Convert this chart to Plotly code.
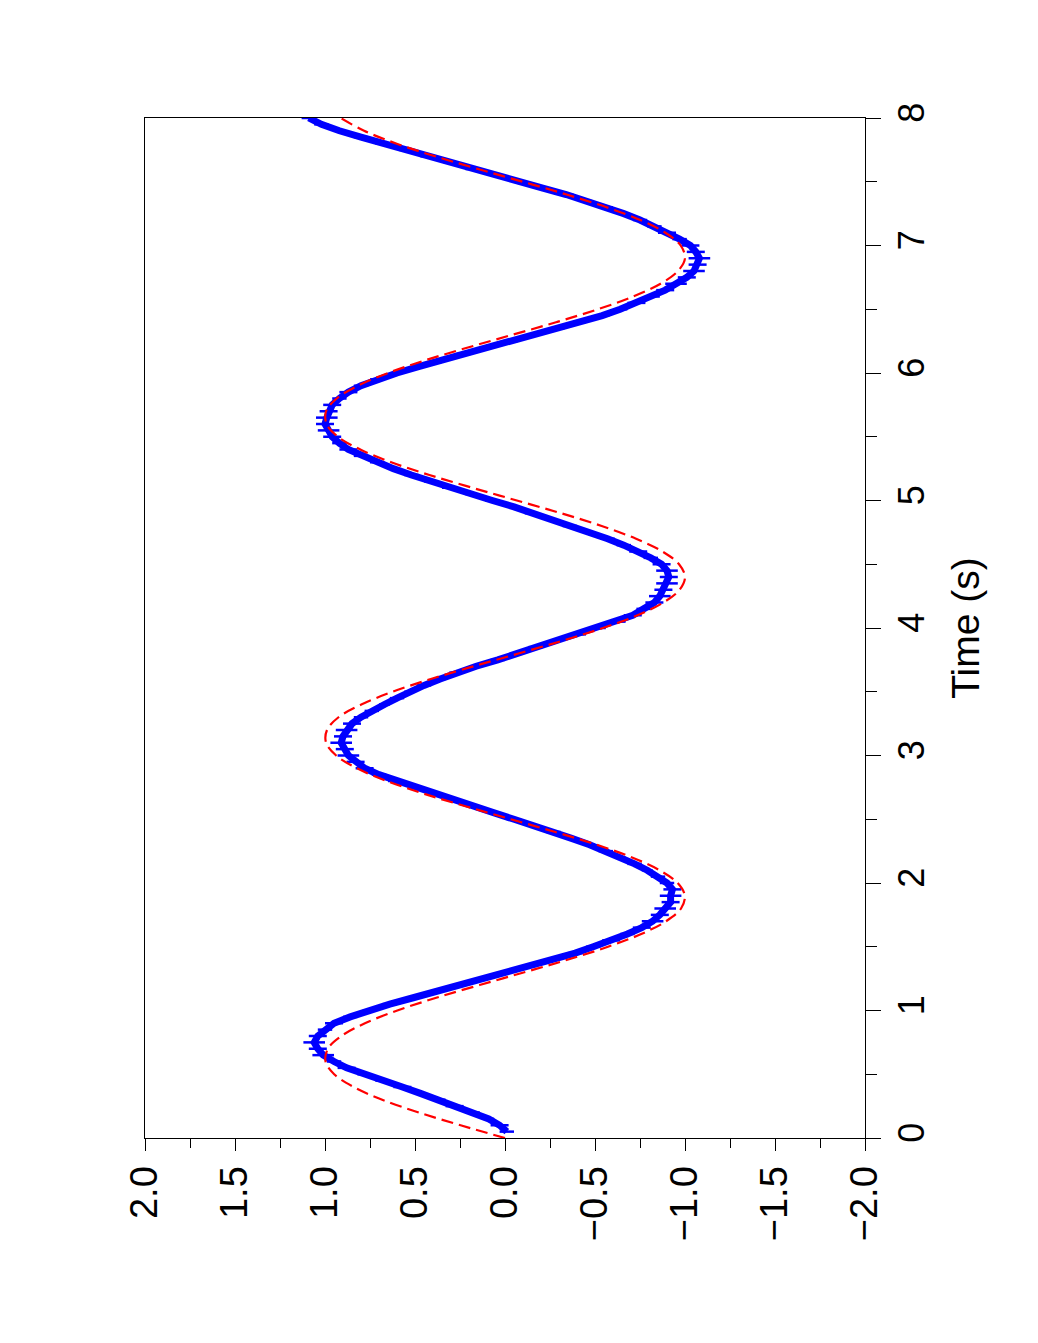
import plotly.graph_objects as go

# --- measured data (blue points with error bars) ---
t_meas = [0.05, 0.10, 0.15, 0.20, 0.25, 0.30, 0.35, 0.40, 0.45, 0.50,
          0.55, 0.60, 0.65, 0.70, 0.75, 0.80, 0.85, 0.90, 0.95, 1.00,
          1.05, 1.10, 1.15, 1.20, 1.25, 1.30, 1.35, 1.40, 1.45, 1.50,
          1.55, 1.60, 1.65, 1.70, 1.75, 1.80, 1.85, 1.90, 1.95, 2.00,
          2.05, 2.10, 2.15, 2.20, 2.25, 2.30, 2.35, 2.40, 2.45, 2.50,
          2.55, 2.60, 2.65, 2.70, 2.75, 2.80, 2.85, 2.90, 2.95, 3.00,
          3.05, 3.10, 3.15, 3.20, 3.25, 3.30, 3.35, 3.40, 3.45, 3.50,
          3.55, 3.60, 3.65, 3.70, 3.75, 3.80, 3.85, 3.90, 3.95, 4.00,
          4.05, 4.10, 4.15, 4.20, 4.25, 4.30, 4.35, 4.40, 4.45, 4.50,
          4.55, 4.60, 4.65, 4.70, 4.75, 4.80, 4.85, 4.90, 4.95, 5.00,
          5.05, 5.10, 5.15, 5.20, 5.25, 5.30, 5.35, 5.40, 5.45, 5.50,
          5.55, 5.60, 5.65, 5.70, 5.75, 5.80, 5.85, 5.90, 5.95, 6.00,
          6.05, 6.10, 6.15, 6.20, 6.25, 6.30, 6.35, 6.40, 6.45, 6.50,
          6.55, 6.60, 6.65, 6.70, 6.75, 6.80, 6.85, 6.90, 6.95, 7.00,
          7.05, 7.10, 7.15, 7.20, 7.25, 7.30, 7.35, 7.40, 7.45, 7.50,
          7.55, 7.60, 7.65, 7.70, 7.75, 7.80, 7.85, 7.90, 7.95, 8.00]
v_meas = [-0.01, 0.03, 0.09, 0.18, 0.28, 0.37, 0.47, 0.57, 0.68, 0.78,
          0.88, 0.95, 1.01, 1.04, 1.06, 1.04, 1.00, 0.95, 0.86, 0.76,
          0.64, 0.51, 0.38, 0.25, 0.12, -0.01, -0.14, -0.27, -0.39, -0.49,
          -0.59, -0.68, -0.76, -0.82, -0.86, -0.89, -0.92, -0.92, -0.93, -0.90,
          -0.85, -0.79, -0.72, -0.64, -0.56, -0.47, -0.37, -0.27, -0.16, -0.05,
          0.06, 0.17, 0.28, 0.40, 0.50, 0.61, 0.70, 0.78, 0.83, 0.87,
          0.89, 0.91, 0.90, 0.88, 0.85, 0.80, 0.74, 0.67, 0.60, 0.53,
          0.45, 0.36, 0.27, 0.16, 0.04, -0.07, -0.17, -0.29, -0.41, -0.52,
          -0.63, -0.71, -0.77, -0.83, -0.86, -0.88, -0.90, -0.91, -0.90, -0.87,
          -0.81, -0.74, -0.66, -0.57, -0.47, -0.36, -0.26, -0.15, -0.05, 0.07,
          0.19, 0.31, 0.42, 0.52, 0.62, 0.71, 0.80, 0.87, 0.92, 0.96,
          0.98, 1.00, 0.99, 0.98, 0.96, 0.92, 0.87, 0.80, 0.71, 0.60,
          0.48, 0.35, 0.23, 0.10, -0.03, -0.16, -0.29, -0.42, -0.54, -0.64,
          -0.73, -0.82, -0.89, -0.95, -1.01, -1.05, -1.07, -1.08, -1.06, -1.03,
          -0.97, -0.90, -0.83, -0.75, -0.66, -0.56, -0.45, -0.34, -0.21, -0.08,
          0.05, 0.18, 0.31, 0.43, 0.56, 0.68, 0.80, 0.92, 1.02, 1.09]
v_err = [0.04, 0.05, 0.03, 0.04, 0.05, 0.04, 0.03, 0.05, 0.04, 0.04,
         0.05, 0.04, 0.06, 0.05, 0.06, 0.05, 0.04, 0.05, 0.04, 0.03,
         0.04, 0.03, 0.04, 0.03, 0.04, 0.03, 0.04, 0.03, 0.04, 0.04,
         0.05, 0.04, 0.05, 0.06, 0.05, 0.06, 0.05, 0.06, 0.05, 0.04,
         0.04, 0.03, 0.04, 0.03, 0.04, 0.03, 0.03, 0.04, 0.03, 0.04,
         0.03, 0.04, 0.03, 0.04, 0.03, 0.04, 0.04, 0.05, 0.05, 0.06,
         0.05, 0.06, 0.05, 0.06, 0.05, 0.04, 0.04, 0.03, 0.04, 0.03,
         0.04, 0.03, 0.04, 0.03, 0.04, 0.03, 0.04, 0.03, 0.04, 0.04,
         0.04, 0.05, 0.04, 0.05, 0.06, 0.05, 0.06, 0.05, 0.06, 0.05,
         0.04, 0.05, 0.04, 0.04, 0.03, 0.04, 0.03, 0.04, 0.03, 0.04,
         0.03, 0.04, 0.03, 0.04, 0.03, 0.04, 0.04, 0.05, 0.04, 0.05,
         0.06, 0.05, 0.06, 0.05, 0.05, 0.04, 0.05, 0.04, 0.04, 0.03,
         0.04, 0.03, 0.04, 0.03, 0.04, 0.03, 0.04, 0.03, 0.04, 0.04,
         0.05, 0.04, 0.05, 0.06, 0.05, 0.06, 0.05, 0.06, 0.05, 0.05,
         0.04, 0.05, 0.04, 0.04, 0.03, 0.04, 0.03, 0.04, 0.03, 0.04,
         0.03, 0.04, 0.03, 0.04, 0.03, 0.04, 0.04, 0.03, 0.04, 0.04]

# --- fitted curve (red dashed) ---
t_fit = [0.0, 0.1, 0.2, 0.3, 0.4, 0.5, 0.6, 0.7, 0.8, 0.9,
         1.0, 1.1, 1.2, 1.3, 1.4, 1.5, 1.6, 1.7, 1.8, 1.9,
         2.0, 2.1, 2.2, 2.3, 2.4, 2.5, 2.6, 2.7, 2.8, 2.9,
         3.0, 3.1, 3.2, 3.3, 3.4, 3.5, 3.6, 3.7, 3.8, 3.9,
         4.0, 4.1, 4.2, 4.3, 4.4, 4.5, 4.6, 4.7, 4.8, 4.9,
         5.0, 5.1, 5.2, 5.3, 5.4, 5.5, 5.6, 5.7, 5.8, 5.9,
         6.0, 6.1, 6.2, 6.3, 6.4, 6.5, 6.6, 6.7, 6.8, 6.9,
         7.0, 7.1, 7.2, 7.3, 7.4, 7.5, 7.6, 7.7, 7.8, 7.9, 8.0]
v_fit = [0.000, 0.247, 0.479, 0.682, 0.841, 0.949, 0.997, 0.984, 0.909, 0.778,
         0.598, 0.382, 0.141, -0.108, -0.351, -0.572, -0.757, -0.895, -0.978, -0.999,
         -0.959, -0.859, -0.706, -0.510, -0.279, -0.033, 0.215, 0.450, 0.657, 0.823,
         0.938, 0.994, 0.989, 0.925, 0.798, 0.625, 0.412, 0.174, -0.075, -0.320,
         -0.544, -0.736, -0.880, -0.970, -1.000, -0.967, -0.875, -0.728, -0.537, -0.312,
         -0.066, 0.182, 0.420, 0.632, 0.804, 0.928, 0.991, 0.994, 0.935, 0.818,
         0.650, 0.442, 0.206, -0.042, -0.288, -0.516, -0.712, -0.864, -0.961, -1.000,
         -0.976, -0.891, -0.751, -0.564, -0.342, -0.099, 0.150, 0.389, 0.605, 0.783, 0.913]

x_ticks = [2.0, 1.5, 1.0, 0.5, 0.0, -0.5, -1.0, -1.5, -2.0]
x_ticklabels = ["2.0", "1.5", "1.0", "0.5", "0.0", "\u22120.5", "\u22121.0", "\u22121.5", "\u22122.0"]
t_ticks = [0, 1, 2, 3, 4, 5, 6, 7, 8]
t_ticklabels = ["0", "1", "2", "3", "4", "5", "6", "7", "8"]

FONT = "Liberation Sans, Arial, Helvetica, sans-serif"

fig = go.Figure()
fig.add_trace(go.Scatter(
    x=v_meas, y=t_meas, mode="lines",
    line=dict(color="#0000ff", width=7),
    error_x=dict(type="data", array=v_err, color="#0000ff", thickness=2.5, width=0),
    showlegend=False, hoverinfo="skip"))
fig.add_trace(go.Scatter(
    x=v_fit, y=t_fit, mode="lines", line_shape="spline",
    line=dict(color="#ff0000", width=2.2, dash="12px,6px"),
    showlegend=False, hoverinfo="skip"))

# page body has an 8px default margin, so the figure is sized 16px smaller
fig.update_layout(
    width=1022, height=1327,
    margin=dict(l=137, r=165, t=110, b=197),
    paper_bgcolor="white", plot_bgcolor="white",
    font=dict(family=FONT, color="black"),
    xaxis=dict(
        range=[2.0, -2.0], autorange=False,
        tickvals=x_ticks, ticktext=x_ticklabels, tickangle=-90,
        tickfont=dict(size=38, family=FONT),
        ticks="outside", ticklen=12, tickwidth=1, tickcolor="black",
        minor=dict(ticks="outside", ticklen=9, tickwidth=1, tickcolor="black", dtick=0.25, tick0=0),
        showline=True, linecolor="black", linewidth=1, mirror=True,
        showgrid=False, zeroline=False),
    yaxis=dict(
        range=[0, 8], autorange=False, side="right",
        tickvals=t_ticks, ticktext=t_ticklabels, tickangle=-90,
        tickfont=dict(size=36, family=FONT),
        ticks="outside", ticklen=15, tickwidth=1, tickcolor="black",
        minor=dict(ticks="outside", ticklen=11, tickwidth=1, tickcolor="black", dtick=0.5, tick0=0),
        showline=True, linecolor="black", linewidth=1, mirror=True,
        showgrid=False, zeroline=False,
        title=dict(text="Time (s)", font=dict(size=39, family=FONT), standoff=20)),
)

fig.write_html("out.html")
